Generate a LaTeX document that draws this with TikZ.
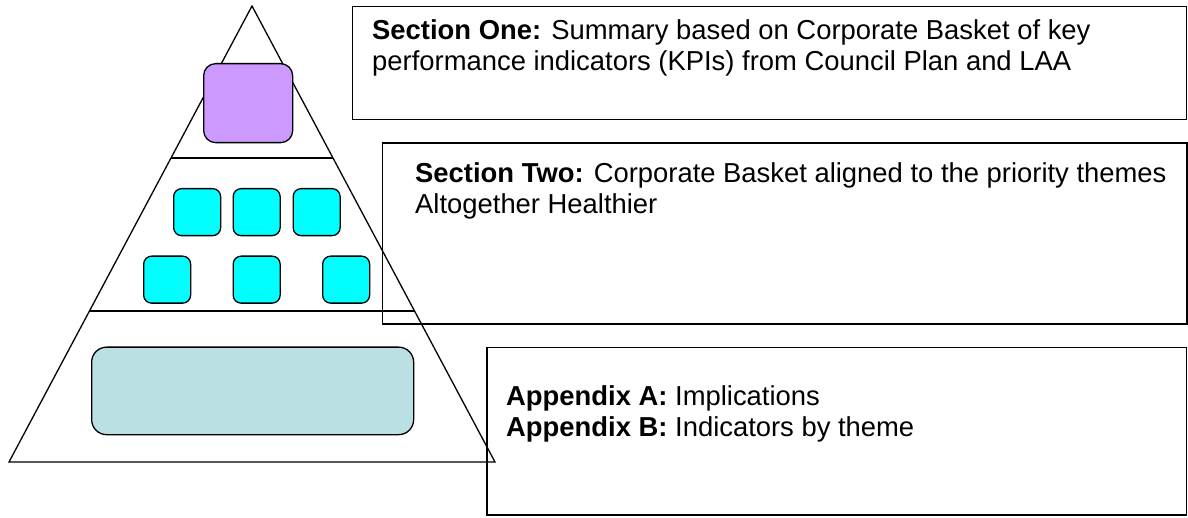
\documentclass[tikz,border=0pt]{standalone}
\usepackage{fontspec}
\setmainfont{Liberation Sans}
\usetikzlibrary{calc}
\definecolor{lilac}{HTML}{CC99FF}
\definecolor{aqua}{HTML}{00FFFF}
\definecolor{paleteal}{HTML}{BBE0E3}
\tikzset{
  outline/.style={line width=1.3pt, draw=black},
  panel/.style={outline, rectangle, inner sep=0pt, anchor=north west},
  tile/.style={outline, rectangle, rounded corners=8pt, inner sep=0pt, anchor=north west, fill=aqua, minimum width=47pt, minimum height=47pt},
  txt/.style={inner sep=0pt, anchor=base west, align=left, font=\fontsize{27.4}{31}\selectfont}
}
\begin{document}
\begin{tikzpicture}[x=1pt,y=-1pt]
\useasboundingbox (0,0) rectangle (1188,518);
% pyramid
\coordinate (apex) at (252,6);
\coordinate (bl) at (9,462);
\coordinate (br) at (495,462);
\draw[outline] (apex) -- (bl) -- (br) -- cycle;
\coordinate (l1) at ($(apex)!0.3333!(bl)$);
\coordinate (r1) at ($(apex)!0.3333!(br)$);
\coordinate (l2) at ($(apex)!0.6689!(bl)$);
\coordinate (r2) at ($(apex)!0.6689!(br)$);
\draw[outline] (l1) -- (r1);
\draw[outline] (l2) -- (r2);
% top tile
\node[outline, rectangle, rounded corners=12pt, inner sep=0pt, anchor=north west, fill=lilac, minimum width=89pt, minimum height=79pt] (top) at (203,63) {};
% middle tiles
\node[tile] (m1) at (173,188) {};
\node[tile] (m2) at (232.5,188) {};
\node[tile] (m3) at (292.5,188) {};
\node[tile] (m4) at (143,255.5) {};
\node[tile] (m5) at (232.5,255.5) {};
\node[tile] (m6) at (322,255.5) {};
% bottom tile
\node[outline, rectangle, rounded corners=15pt, inner sep=0pt, anchor=north west, fill=paleteal, minimum width=322pt, minimum height=87.5pt] (bottom) at (91,346.5) {};
% text panels
\node[panel, minimum width=834pt, minimum height=113pt] (p1) at (351.7,6) {};
\node[panel, minimum width=804.5pt, minimum height=181pt] (p2) at (381.7,142.3) {};
\node[panel, minimum width=699.7pt, minimum height=167.6pt] (p3) at (486.3,346.7) {};
\node[txt] (t1) at (372,70.5) {\textbf{Section One:} Summary based on Corporate Basket of key\\performance indicators (KPIs) from Council Plan and LAA};
\node[txt] (t2) at (415,213.5) {\textbf{Section Two:} Corporate Basket aligned to the priority themes\\Altogether Healthier};
\node[txt] (t3) at (506,436) {\textbf{Appendix A:} Implications\\\textbf{Appendix B:} Indicators by theme};
\end{tikzpicture}
\end{document}
